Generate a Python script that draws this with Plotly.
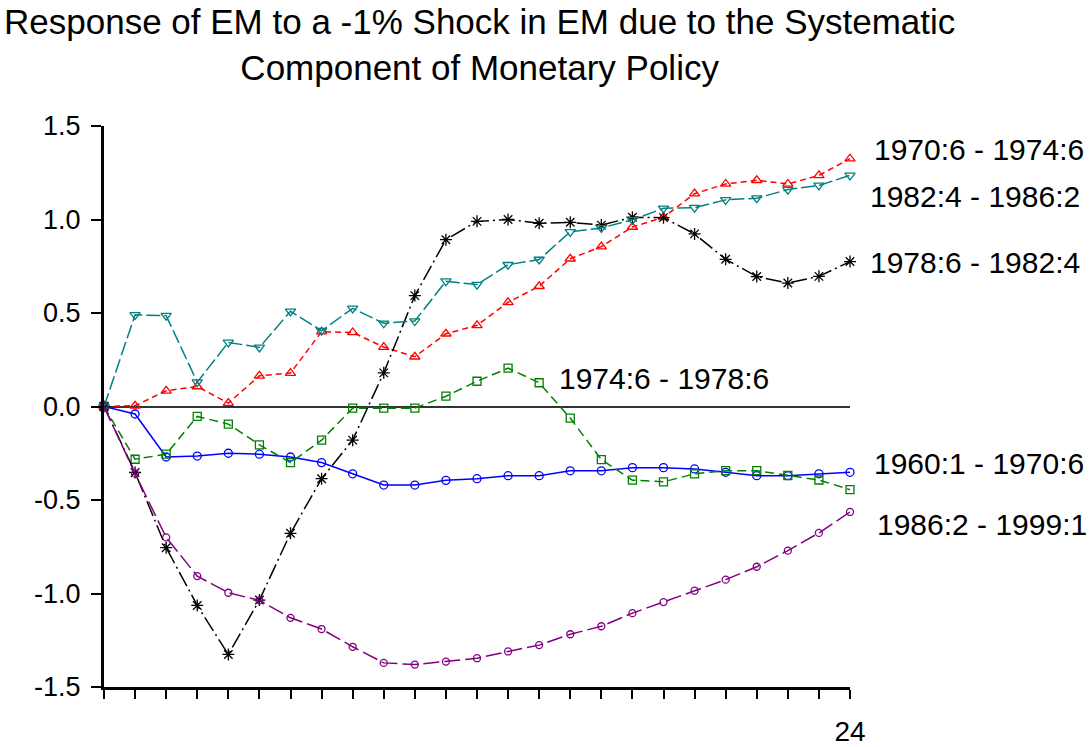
import plotly.graph_objects as go

periods = list(range(25))

s_1960_1970 = [0, -0.04, -0.27, -0.265, -0.25, -0.255, -0.27, -0.30, -0.36, -0.42, -0.42, -0.395,
               -0.386, -0.37, -0.37, -0.344, -0.344, -0.327, -0.327, -0.334, -0.352, -0.37, -0.37,
               -0.36, -0.352]
s_1970_1974 = [0, 0.004, 0.084, 0.107, 0.018, 0.164, 0.179, 0.40, 0.396, 0.318, 0.266, 0.389,
               0.434, 0.557, 0.643, 0.79, 0.855, 0.96, 1.012, 1.138, 1.19, 1.21, 1.19, 1.236, 1.325]
s_1974_1978 = [0, -0.282, -0.255, -0.053, -0.094, -0.205, -0.30, -0.18, -0.009, -0.009, -0.009,
               0.055, 0.135, 0.205, 0.127, -0.062, -0.284, -0.394, -0.403, -0.36, -0.343, -0.343,
               -0.369, -0.393, -0.445]
s_1978_1982 = [0, -0.353, -0.755, -1.064, -1.326, -1.035, -0.678, -0.386, -0.18, 0.18, 0.593,
               0.892, 0.99, 1.0, 0.98, 0.985, 0.97, 1.012, 1.01, 0.923, 0.787, 0.695, 0.66, 0.696,
               0.775]
s_1982_1986 = [0, 0.49, 0.486, 0.13, 0.343, 0.316, 0.509, 0.405, 0.525, 0.445, 0.457, 0.67,
               0.652, 0.758, 0.786, 0.934, 0.955, 0.998, 1.06, 1.063, 1.105, 1.114, 1.16, 1.182,
               1.236]
s_1986_1999 = [0, -0.359, -0.70, -0.907, -0.996, -1.037, -1.13, -1.19, -1.285, -1.371, -1.38,
               -1.364, -1.346, -1.31, -1.276, -1.218, -1.175, -1.105, -1.046, -0.985, -0.926,
               -0.857, -0.771, -0.676, -0.564]

series_names = ["1960:1 - 1970:6", "1970:6 - 1974:6", "1974:6 - 1978:6",
                "1978:6 - 1982:4", "1982:4 - 1986:2", "1986:2 - 1999:1"]

ytick_vals = [-1.5, -1.0, -0.5, 0.0, 0.5, 1.0, 1.5]
ytick_text = ["-1.5", "-1.0", "-0.5", "0.0", "0.5", "1.0", "1.5"]
xtick_text = [""] * 24 + ["24"]

# label anchors: x in paper coords, y in data coords
label_pos = {
    "1970:6 - 1974:6": (1.0295, 1.373),
    "1982:4 - 1986:2": (1.0235, 1.124),
    "1978:6 - 1982:4": (1.0235, 0.771),
    "1974:6 - 1978:6": (0.6075, 0.15),
    "1960:1 - 1970:6": (1.0295, -0.305),
    "1986:2 - 1999:1": (1.034, -0.629),
}

styles = [
    (s_1960_1970, "#0000FF", "solid", "circle-open", 8),
    (s_1970_1974, "#FF0000", "6px,4px", "triangle-up-open", 9),
    (s_1974_1978, "#008000", "9px,5px", "square-open", 8),
    (s_1978_1982, "#000000", "16px,4px,2px,4px", "asterisk-open", 10),
    (s_1982_1986, "#008080", "14px,4px", "triangle-down-open", 9),
    (s_1986_1999, "#800080", "16px,5px", "circle-open", 7),
]

FONT = "Liberation Sans, Arial, sans-serif"

fig = go.Figure()
for name, (vals, color, dash, sym, size) in zip(series_names, styles):
    fig.add_trace(go.Scatter(
        x=periods, y=vals, name=name, mode="lines+markers",
        line=dict(color=color, width=1.5, dash=dash),
        marker=dict(symbol=sym, size=size, color=color, line=dict(color=color, width=1.3)),
        cliponaxis=False, showlegend=False,
    ))

for name in series_names:
    lx, ly = label_pos[name]
    fig.add_annotation(x=lx, y=ly, xref="paper", yref="y", text=name, showarrow=False,
                       xanchor="left", yanchor="middle",
                       font=dict(family=FONT, size=30, color="black"))

# title as a two-line annotation
fig.add_annotation(x=0.5027, y=1.2246, xref="paper", yref="paper",
                   text="Response of EM to a -1% Shock in EM due to the Systematic<br>Component of Monetary Policy",
                   showarrow=False, xanchor="center", yanchor="top", align="center",
                   font=dict(family=FONT, size=35, color="black"))

fig.update_layout(
    width=1089, height=747,
    paper_bgcolor="white", plot_bgcolor="white",
    margin=dict(l=104, r=239, t=126, b=60, autoexpand=False),
    font=dict(family=FONT, color="black"),
    xaxis=dict(range=[0, 24], tickvals=periods, ticktext=xtick_text,
               ticks="outside", ticklen=9, tickwidth=1.5, tickcolor="black",
               showline=True, linewidth=3, linecolor="black",
               showgrid=False, zeroline=False, automargin=False, ticklabelstandoff=8,
               tickfont=dict(family=FONT, size=28, color="black")),
    yaxis=dict(range=[-1.5, 1.5], tickvals=ytick_vals, ticktext=ytick_text,
               ticks="outside", ticklen=10, tickwidth=1.5, tickcolor="black",
               showline=True, linewidth=3, linecolor="black",
               showgrid=False, zeroline=True, zerolinecolor="#333333", zerolinewidth=2,
               automargin=False, ticklabelstandoff=5,
               tickfont=dict(family=FONT, size=27, color="black")),
)

fig.write_html("out.html", config={"displayModeBar": False},
               post_script="document.body.style.margin='0';")
